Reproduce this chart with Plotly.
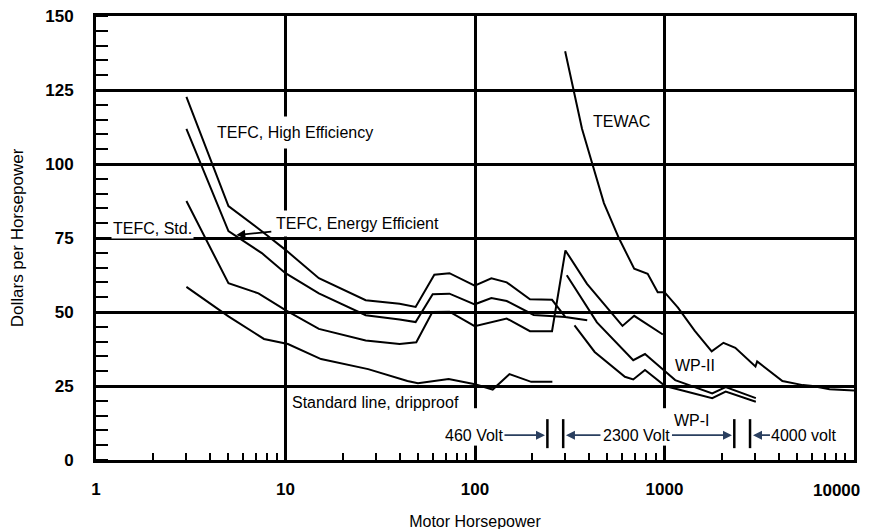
import math
import plotly.graph_objects as go

# ---- data (motor horsepower, dollars per horsepower) ----
hi_eff_hp = [3, 5, 7.5, 10, 15, 26.5, 40, 48.6, 61, 73.3, 99.6, 122, 147, 195, 255, 300, 391]
hi_eff_val = [122.7, 85.8, 77.3, 71.0, 61.4, 54.0, 52.8, 51.7, 62.6, 63.1, 58.9, 61.4, 60.0, 54.3, 54.1, 48.3, 47.2]

energy_hp = [3, 5, 7.5, 10, 15, 26.5, 40, 48.6, 59.8, 73.3, 99.6, 122, 147, 204, 260, 300]
energy_val = [111.9, 77.3, 69.9, 63.1, 56.3, 48.9, 47.5, 46.6, 56.0, 56.2, 52.6, 54.7, 53.7, 49.0, 48.6, 48.3]

std_hp = [3, 5, 7.2, 10, 15, 26.5, 40, 49, 59.6, 73.3, 99.6, 147, 195, 255, 300, 390, 600, 692, 980]
std_val = [87.5, 59.7, 56.3, 50.6, 44.3, 40.4, 39.2, 39.8, 50.0, 50.1, 45.2, 47.8, 43.5, 43.5, 70.8, 59.5, 45.3, 48.7, 42.4]

drip_hp = [3, 5, 7.7, 10.3, 15.4, 27.3, 44, 50, 72.6, 100, 124, 152, 198, 256]
drip_val = [58.5, 48.5, 40.9, 39.2, 34.1, 30.7, 26.7, 25.9, 27.4, 25.6, 23.8, 29.0, 26.4, 26.4]

tewac_hp = [299, 331, 367, 414, 479, 575, 692, 815, 921, 1000, 1178, 1445, 1774, 2047, 2364,
            3020, 3083, 4190, 5370, 6050, 7430, 10000]
tewac_val = [138.1, 125.0, 111.9, 100.5, 86.8, 74.9, 64.6, 62.9, 56.7, 56.7, 51.5, 43.6, 36.7, 39.6, 37.9,
             31.6, 33.3, 26.7, 25.3, 25.0, 23.9, 23.5]

wp2_hp = [305, 440, 684, 789, 968, 1139, 1786, 2103, 3034]
wp2_val = [62.4, 46.5, 33.7, 35.8, 30.9, 27.0, 22.5, 24.6, 20.9]

wp1_hp = [335, 428, 618, 684, 789, 1008, 1786, 2103, 3034]
wp1_val = [45.5, 36.5, 28.1, 27.2, 30.4, 25.0, 20.9, 23.1, 19.7]

x_ticks = [1, 10, 100, 1000, 10000]
x_tick_text = ["1", "10", "100", "1000", "10000"]
y_ticks = [0, 25, 50, 75, 100, 125, 150]

series = [
    (hi_eff_hp, hi_eff_val),
    (energy_hp, energy_val),
    (std_hp, std_val),
    (drip_hp, drip_val),
    (tewac_hp, tewac_val),
    (wp2_hp, wp2_val),
    (wp1_hp, wp1_val),
]

FONT = "Liberation Sans, Arial, sans-serif"
L = math.log10
LBL = 16
TICKFONT = dict(family=FONT, size=17, color="black", weight="bold")

fig = go.Figure()
for xs, ys in series:
    fig.add_trace(go.Scatter(x=xs, y=ys, mode="lines",
                             line=dict(color="black", width=2),
                             showlegend=False, hoverinfo="skip"))

def label(text, hp, val, xanchor="left", pad=1, **kw):
    return dict(x=L(hp), y=val, xref="x", yref="y", text=text, showarrow=False,
                xanchor=xanchor, yanchor="middle", bgcolor="white", borderpad=pad,
                font=dict(family=FONT, size=LBL, color="black"), **kw)

annotations = [
    label("TEFC, High Efficiency", 3.95, 110.7, pad=7),
    label("TEFC, Std.", 1.196, 78.3),
    label("TEWAC", 410, 114.5),
    label("WP-II", 1110, 31.8),
    label("WP-I", 1095, 13.3),
    label("Standard line, dripproof", 10.6, 19.3),
    # energy efficient with pointer
    dict(x=L(5.5), y=76.0, xref="x", yref="y", text="TEFC, Energy Efficient",
         showarrow=True, arrowhead=2, arrowsize=1, arrowwidth=1.8, arrowcolor="black",
         ax=121, ay=-12, bgcolor="white", borderpad=4,
         font=dict(family=FONT, size=LBL, color="black")),
    # voltage ranges
    dict(x=L(234), y=8.4, xref="x", yref="y", text="460 Volt", showarrow=True,
         arrowhead=2, arrowsize=1, arrowwidth=1.8, ax=-71, ay=0, bgcolor="white",
         font=dict(family=FONT, size=LBL, color="black")),
    dict(x=L(2270), y=8.4, xref="x", yref="y", text="2300 Volt", showarrow=True,
         arrowhead=2, arrowsize=1, arrowwidth=1.8, ax=-95, ay=0, bgcolor="white",
         font=dict(family=FONT, size=LBL, color="black")),
    dict(x=L(302), y=8.4, xref="x", yref="y", text="", showarrow=True,
         arrowhead=2, arrowsize=1, arrowwidth=1.8, ax=36, ay=0),
    dict(x=L(2930), y=8.4, xref="x", yref="y", text="4000 volt", showarrow=True,
         arrowhead=2, arrowsize=1, arrowwidth=1.8, ax=51, ay=0, bgcolor="white",
         font=dict(family=FONT, size=LBL, color="black")),
    # last x tick label, kept inside the page as in the reference
    dict(x=L(x_ticks[-1]), y=0, xref="x", yref="y", text=x_tick_text[-1], showarrow=False,
         xanchor="right", yanchor="middle", xshift=8, yshift=-30, font=TICKFONT),
]

shapes = []
# range bars (shapes take raw data values on the log axis)
for hp in [241, 292, 2335, 2827]:
    shapes.append(dict(type="line", xref="x", yref="y", x0=hp, x1=hp, y0=4.0, y1=13.8,
                       line=dict(color="black", width=2.5)))
# gaps cut into vertical grid lines near the bottom
for hp in [100, 1000]:
    shapes.append(dict(type="rect", xref="x", yref="y", x0=hp * 0.95, x1=hp * 1.05,
                       y0=5.0, y1=17.5, fillcolor="white", line=dict(width=0), layer="between"))

# the page adds an 8px body margin, margins are compensated for it
fig.update_layout(
    width=875, height=529,
    margin=dict(l=88, r=29, t=8, b=77, autoexpand=False),
    paper_bgcolor="white", plot_bgcolor="white",
    annotations=annotations, shapes=shapes,
    font=dict(family=FONT, color="black"),
)

fig.update_xaxes(
    type="log", range=[0, 4], tickmode="array", tickvals=x_ticks,
    ticktext=x_tick_text[:-1] + [""],
    showgrid=True, gridcolor="black", gridwidth=2.5,
    showline=True, linecolor="black", linewidth=3, mirror=True,
    ticks="", zeroline=False, automargin=False, ticklabelstandoff=12,
    ticklabeloverflow="allow",
    tickfont=TICKFONT,
    minor=dict(tickmode="array", tickvals=[m * 10 ** d for d in range(4) for m in range(2, 10)],
               ticks="inside", ticklen=7, tickwidth=2, tickcolor="black", showgrid=False),
    title=dict(text="Motor Horsepower", standoff=18,
               font=dict(family=FONT, size=16, color="black")),
)
fig.update_yaxes(
    range=[0, 150], tickmode="array", tickvals=y_ticks,
    showgrid=True, gridcolor="black", gridwidth=2.5,
    showline=True, linecolor="black", linewidth=3, mirror=True,
    ticks="", zeroline=False, automargin=False, ticklabelstandoff=16,
    ticklabeloverflow="allow",
    tickfont=TICKFONT,
    minor=dict(dtick=5, tick0=0, ticks="inside", ticklen=12, tickwidth=2, tickcolor="black", showgrid=False),
    title=dict(text="Dollars per Horsepower", standoff=18,
               font=dict(family=FONT, size=17, color="black")),
)

fig.write_html("out.html")
